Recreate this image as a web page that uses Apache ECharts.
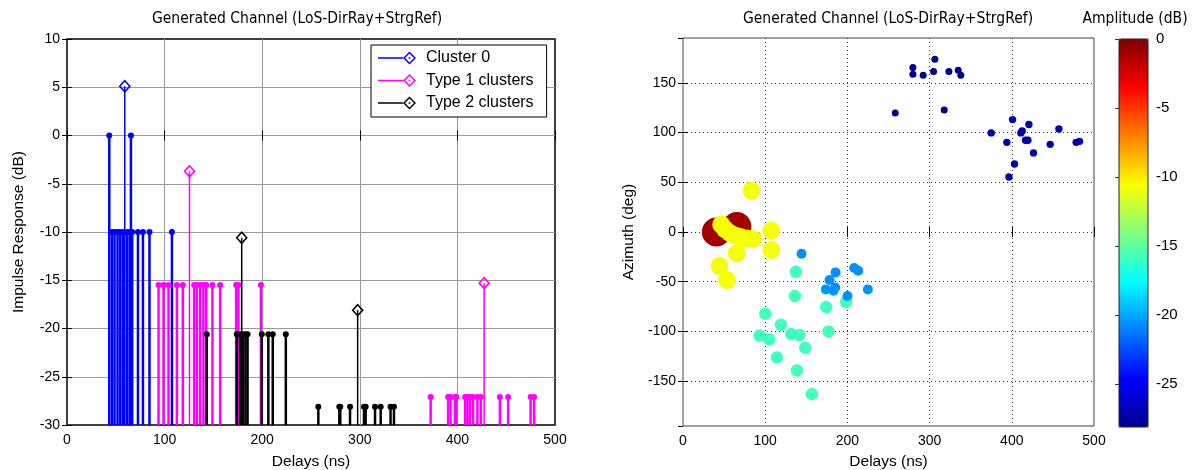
<!DOCTYPE html>
<html>
<head>
<meta charset="utf-8">
<script src="https://cdn.jsdelivr.net/npm/echarts@6/dist/echarts.min.js"></script>
<style>
  html, body { margin: 0; padding: 0; background: #fff; }
  #chart { width: 1197px; height: 470px; }
</style>
</head>
<body>
<div id="chart"></div>
<script>
// ---------- Impulse response: ray delays (ns) and levels (dB) ----------
const c0Delay = [43.3, 65.5, 46.0, 48.7, 51.8, 54.6, 57.3, 61.4, 64.1, 66.8, 72.7, 77.8, 84.5, 107.5];
const c0Level = [0, 0, -10, -10, -10, -10, -10, -10, -10, -10, -10, -10, -10, -10];
const c0PeakDelay = [59.2];
const c0PeakLevel = [5.1];

const t1Delay = [93.8, 98.9, 104.0, 112.6, 118.7, 130.3, 133.0, 136.4, 139.8, 142.6, 149.0, 156.9, 173.3, 175.6, 198.7,
                 372.6, 390.5, 393.0, 397.4, 399.0, 407.9, 410.3, 412.6, 416.0, 420.5, 424.0, 443.5, 452.0, 475.0, 478.6];
const t1Level = [-15.5, -15.5, -15.5, -15.5, -15.5, -15.5, -15.5, -15.5, -15.5, -15.5, -15.5, -15.5, -15.5, -15.5, -15.5,
                 -27.1, -27.1, -27.1, -27.1, -27.1, -27.1, -27.1, -27.1, -27.1, -27.1, -27.1, -27.1, -27.1, -27.1, -27.1];
const t1PeakDelay = [125.5, 427.4];
const t1PeakLevel = [-3.7, -15.3];

const t2Delay = [143.2, 174.0, 177.4, 180.1, 182.8, 185.0, 199.6, 206.3, 210.8, 224.2,
                 257.5, 279.0, 280.0, 290.0, 304.3, 306.0, 315.6, 321.4, 331.5, 335.0];
const t2Level = [-20.6, -20.6, -20.6, -20.6, -20.6, -20.6, -20.6, -20.6, -20.6, -20.6,
                 -28.1, -28.1, -28.1, -28.1, -28.1, -28.1, -28.1, -28.1, -28.1, -28.1];
const t2PeakDelay = [179.0, 297.8];
const t2PeakLevel = [-10.6, -18.1];

// ---------- Angular spread: delay (ns), azimuth (deg), amplitude (dB) ----------
const losDelay = [40.6, 65.5];
const losAz    = [0.0, 5.5];
const losAmp   = [-1.0, -1.0];

const grpADelay = [46.5, 51.0, 57.0, 63.5, 70.0, 78.0, 85.5, 65.5, 107.3, 107.3, 44.4, 53.6, 83.2];
const grpAAz    = [7.5, 3.0, -1.0, -3.5, -5.0, -6.5, -7.0, -21.3, 1.5, -18.0, -34.0, -48.3, 41.7];
const grpAAmp   = [-10.8, -10.8, -10.8, -10.8, -10.8, -10.8, -10.8, -10.8, -10.8, -10.8, -10.8, -10.8, -10.8];

const grpBDelay = [93.0, 100.0, 104.9, 114.2, 119.1, 131.6, 136.1, 137.3, 138.6, 141.7, 148.7, 156.8, 174.2, 177.0, 198.5];
const grpBAz    = [-104.0, -82.2, -108.0, -126.1, -93.3, -102.6, -64.4, -40.0, -139.2, -103.6, -116.4, -163.0, -75.5, -100.0, -70.1];
const grpBAmp   = [-15.8, -15.8, -15.8, -15.8, -15.8, -15.8, -15.8, -15.8, -15.8, -15.8, -15.8, -15.8, -15.8, -15.8, -15.8];

const grpCDelay = [144.2, 185.6, 178.3, 173.8, 183.1, 185.2, 208.3, 213.1, 200.1, 224.9];
const grpCAz    = [-21.8, -40.6, -48.3, -57.7, -59.0, -55.7, -36.2, -38.9, -64.4, -57.7];
const grpCAmp   = [-20.6, -20.6, -20.6, -20.6, -20.6, -20.6, -20.6, -20.6, -20.6, -20.6];

const grpDDelay = [258.2, 279.7, 279.7, 292.2, 304.8, 306.4, 317.8, 323.5, 334.8, 338.0,
                   374.9, 394.0, 396.5, 400.9, 403.3, 411.0, 412.6, 416.7, 419.6, 420.8, 426.4, 446.7, 457.3, 478.3, 482.4];
const grpDAz    = [119.7, 165.3, 158.5, 157.5, 161.3, 173.6, 122.7, 161.3, 162.6, 157.5,
                   99.6, 90.1, 55.3, 113.0, 68.4, 99.6, 101.6, 92.2, 92.2, 108.0, 79.5, 88.1, 103.6, 90.1, 91.1];
const grpDAmp   = [-28.1, -28.1, -28.1, -28.1, -28.1, -28.1, -28.1, -28.1, -28.1, -28.1,
                   -27.1, -27.1, -27.1, -27.1, -27.1, -27.1, -27.1, -27.1, -27.1, -27.1, -27.1, -27.1, -27.1, -27.1, -27.1];

// ---------- axis settings ----------
const delayTicks = { min: 0, max: 500, interval: 100 };
const levelTicks = { min: -30, max: 10, interval: 5 };
const azimuthRange = { min: -195, max: 195, step: 50 };
const ampRange = { min: -28.1, max: 0, step: 5 };

const FONT = "'Liberation Sans', Arial, Helvetica, sans-serif";
const TITLE_FONT = "'Liberation Sans Narrow', 'DejaVu Sans Condensed', 'Liberation Sans', sans-serif";

const zip2 = (a, b) => a.map((v, i) => [v, b[i]]);
const zip3 = (a, b, c) => a.map((v, i) => [v, b[i], c[i]]);

// stem with a filled dot at its tip, drawn from the axis floor
function stemRenderer(color, lineWidth, radius) {
  return function (params, api) {
    const tip = api.coord([api.value(0), api.value(1)]);
    const base = api.coord([api.value(0), levelTicks.min]);
    return {
      type: 'group',
      children: [
        { type: 'line', shape: { x1: tip[0], y1: tip[1], x2: base[0], y2: base[1] },
          style: { stroke: color, lineWidth: lineWidth } },
        { type: 'circle', shape: { cx: tip[0], cy: tip[1], r: radius }, style: { fill: color } }
      ]
    };
  };
}

// thin stem ending in an open diamond (cluster peak)
function peakRenderer(color) {
  return function (params, api) {
    const tip = api.coord([api.value(0), api.value(1)]);
    const base = api.coord([api.value(0), levelTicks.min]);
    const w = 5, h = 5.5;
    return {
      type: 'group',
      children: [
        { type: 'line', shape: { x1: tip[0], y1: tip[1], x2: base[0], y2: base[1] },
          style: { stroke: color, lineWidth: 1.5 } },
        { type: 'polygon',
          shape: { points: [[tip[0], tip[1] - h], [tip[0] + w, tip[1]], [tip[0], tip[1] + h], [tip[0] - w, tip[1]]] },
          style: { fill: 'none', stroke: color, lineWidth: 1.6 } }
      ]
    };
  };
}

// legend glyph: short line ending in an open diamond
const legendIcon = 'path://M0,5.4L23,5.4L23,6.6L0,6.6Z' +
  'M29,0L35,6L29,12L23,6Z M29,1.9L24.9,6L29,10.1L33.1,6Z M28.2,5.2L29.8,5.2L29.8,6.8L28.2,6.8Z';

// marker diameter against amplitude
const sizeStops = [[-28.1, 7], [-20.6, 10], [-15.8, 12.5], [-10.8, 18], [-1, 29]];
function markerSize(v) {
  const a = v[2];
  if (a <= sizeStops[0][0]) return sizeStops[0][1];
  for (let i = 1; i < sizeStops.length; i++) {
    const [a1, s1] = sizeStops[i];
    const [a0, s0] = sizeStops[i - 1];
    if (a <= a1) return s0 + (s1 - s0) * (a - a0) / (a1 - a0);
  }
  return sizeStops[sizeStops.length - 1][1];
}

const jet = ['#00008f', '#0000ff', '#0080ff', '#00ffff', '#80ff80', '#ffff00', '#ff8000', '#ff0000', '#800000'];

const tickStyle = { inside: true, length: 5, lineStyle: { color: '#000', width: 1 } };
const labelStyle = { color: '#000', fontSize: 14, fontFamily: FONT };
const nameStyle = { color: '#000', fontSize: 15.5, fontFamily: FONT };
const titleFont = '15.5px ' + TITLE_FONT;

const scatterData = []
  .concat(zip3(losDelay, losAz, losAmp))
  .concat(zip3(grpADelay, grpAAz, grpAAmp))
  .concat(zip3(grpBDelay, grpBAz, grpBAmp))
  .concat(zip3(grpCDelay, grpCAz, grpCAmp))
  .concat(zip3(grpDDelay, grpDAz, grpDAmp));

const chart = echarts.init(document.getElementById('chart'));

const option = {
  animation: false,
  backgroundColor: '#fff',
  textStyle: { fontFamily: FONT },
  graphic: [
    { type: 'text', x: 297, y: 19, style: { text: 'Generated Channel (LoS-DirRay+StrgRef)', align: 'center', verticalAlign: 'middle',
      font: titleFont, fill: '#000' } },
    { type: 'text', x: 888, y: 19, style: { text: 'Generated Channel (LoS-DirRay+StrgRef)', align: 'center', verticalAlign: 'middle',
      font: titleFont, fill: '#000' } },
    { type: 'text', x: 1135, y: 19, style: { text: 'Amplitude (dB)', align: 'center', verticalAlign: 'middle',
      font: titleFont, fill: '#000' } }
  ],
  grid: [
    { left: 67, top: 39, width: 488, height: 386, outerBoundsMode: 'none', containLabel: false,
      show: true, borderColor: '#000', borderWidth: 1.5, backgroundColor: 'transparent' },
    { left: 683, top: 38, width: 411, height: 388, outerBoundsMode: 'none', containLabel: false,
      show: true, borderColor: '#444', borderWidth: 1, backgroundColor: 'transparent' },
    { left: 1119, top: 39, width: 29, height: 388, outerBoundsMode: 'none', containLabel: false,
      show: true, borderColor: '#222', borderWidth: 1, backgroundColor: 'transparent', z: 10 }
  ],
  legend: {
    left: 371, top: 45, orient: 'vertical',
    backgroundColor: '#fff', borderColor: '#000', borderWidth: 1,
    padding: [5, 13, 6, 7], itemGap: 6.5, itemWidth: 38, itemHeight: 16,
    textStyle: { fontSize: 16, fontFamily: FONT, color: '#000', padding: [0, 0, 0, 5] },
    selectedMode: false,
    data: [
      { name: 'Cluster 0', icon: legendIcon, itemStyle: { color: '#0000ff' } },
      { name: 'Type 1 clusters', icon: legendIcon, itemStyle: { color: '#ff00ff' } },
      { name: 'Type 2 clusters', icon: legendIcon, itemStyle: { color: '#000000' } }
    ]
  },
  visualMap: {
    type: 'continuous', seriesIndex: 6, dimension: 2,
    min: ampRange.min, max: ampRange.max,
    inRange: { color: jet },
    calculable: false, hoverLink: false, realtime: false,
    left: 1119, top: 39, padding: 0, itemWidth: 29, itemHeight: 388,
    text: null, textGap: 0, showLabel: false
  },
  xAxis: [
    { gridIndex: 0, type: 'value', position: 'bottom', ...delayTicks,
      axisLine: { show: false }, axisTick: tickStyle,
      axisLabel: { ...labelStyle, margin: 8 },
      splitLine: { show: true, showMinLine: false, showMaxLine: false, lineStyle: { color: '#9a9a9a', width: 1 } },
      name: 'Delays (ns)', nameLocation: 'middle', nameGap: 29, nameTextStyle: nameStyle },
    { gridIndex: 0, type: 'value', position: 'top', ...delayTicks,
      axisLine: { show: false }, axisTick: tickStyle, axisLabel: { show: false }, splitLine: { show: false } },
    { gridIndex: 1, type: 'value', position: 'bottom', ...delayTicks,
      axisLine: { show: false }, axisTick: tickStyle,
      axisLabel: { ...labelStyle, margin: 8 },
      splitLine: { show: true, showMinLine: false, showMaxLine: false, lineStyle: { color: '#333', width: 1, type: [1, 3] } },
      name: 'Delays (ns)', nameLocation: 'middle', nameGap: 28, nameTextStyle: nameStyle },
    { gridIndex: 1, type: 'value', position: 'top', ...delayTicks,
      axisLine: { show: false }, axisTick: tickStyle, axisLabel: { show: false }, splitLine: { show: false } },
    { gridIndex: 2, type: 'value', min: 0, max: 1, show: false }
  ],
  yAxis: [
    { gridIndex: 0, type: 'value', position: 'left', ...levelTicks,
      axisLine: { show: false }, axisTick: tickStyle,
      axisLabel: { ...labelStyle, margin: 7 },
      splitLine: { show: true, showMinLine: false, showMaxLine: false, lineStyle: { color: '#9a9a9a', width: 1 } },
      name: 'Impulse Response (dB)', nameLocation: 'middle', nameGap: 40, nameTextStyle: nameStyle },
    { gridIndex: 0, type: 'value', position: 'right', ...levelTicks,
      axisLine: { show: false }, axisTick: tickStyle, axisLabel: { show: false }, splitLine: { show: false } },
    { gridIndex: 1, type: 'value', position: 'left', min: azimuthRange.min, max: azimuthRange.max,
      splitNumber: 8, minInterval: azimuthRange.step, maxInterval: azimuthRange.step,
      axisLine: { show: false }, axisTick: tickStyle,
      axisLabel: { ...labelStyle, margin: 7, showMinLabel: false, showMaxLabel: false },
      splitLine: { show: true, showMinLine: false, showMaxLine: false, lineStyle: { color: '#333', width: 1, type: [1, 3] } },
      name: 'Azimuth (deg)', nameLocation: 'middle', nameGap: 46, nameTextStyle: nameStyle },
    { gridIndex: 1, type: 'value', position: 'right', min: azimuthRange.min, max: azimuthRange.max,
      splitNumber: 8, minInterval: azimuthRange.step, maxInterval: azimuthRange.step,
      axisLine: { show: false }, axisTick: tickStyle, axisLabel: { show: false }, splitLine: { show: false } },
    { gridIndex: 2, type: 'value', position: 'right', min: ampRange.min, max: ampRange.max,
      splitNumber: 6, minInterval: ampRange.step, maxInterval: ampRange.step, z: 11,
      axisLine: { show: false }, axisTick: { inside: true, length: 4, lineStyle: { color: '#333' } },
      axisLabel: { ...labelStyle, fontSize: 15, margin: 8, showMinLabel: false },
      splitLine: { show: false } }
  ],
  series: [
    { name: 'Cluster 0', type: 'custom', xAxisIndex: 0, yAxisIndex: 0, z: 3,
      renderItem: stemRenderer('#0000ff', 2.5, 3), data: zip2(c0Delay, c0Level) },
    { name: 'Cluster 0', type: 'custom', xAxisIndex: 0, yAxisIndex: 0, z: 3,
      renderItem: peakRenderer('#0000ff'), data: zip2(c0PeakDelay, c0PeakLevel) },
    { name: 'Type 1 clusters', type: 'custom', xAxisIndex: 0, yAxisIndex: 0, z: 3,
      renderItem: stemRenderer('#ff00ff', 2.5, 3), data: zip2(t1Delay, t1Level) },
    { name: 'Type 1 clusters', type: 'custom', xAxisIndex: 0, yAxisIndex: 0, z: 3,
      renderItem: peakRenderer('#ff00ff'), data: zip2(t1PeakDelay, t1PeakLevel) },
    { name: 'Type 2 clusters', type: 'custom', xAxisIndex: 0, yAxisIndex: 0, z: 3,
      renderItem: stemRenderer('#000000', 2.5, 3), data: zip2(t2Delay, t2Level) },
    { name: 'Type 2 clusters', type: 'custom', xAxisIndex: 0, yAxisIndex: 0, z: 3,
      renderItem: peakRenderer('#000000'), data: zip2(t2PeakDelay, t2PeakLevel) },
    { name: 'Rays', type: 'scatter', xAxisIndex: 2, yAxisIndex: 2, z: 3,
      symbol: 'circle', symbolSize: markerSize, itemStyle: { opacity: 1 },
      data: scatterData }
  ]
};

chart.setOption(option);
</script>
</body>
</html>
